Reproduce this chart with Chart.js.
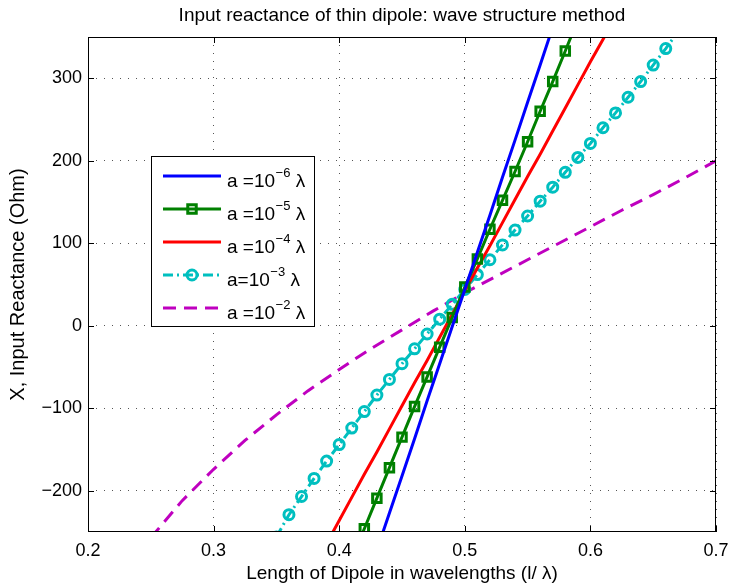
<!DOCTYPE html>
<html><head><meta charset="utf-8">
<script src="https://cdn.jsdelivr.net/npm/chart.js@4/dist/chart.umd.min.js"></script>
<style>html,body{margin:0;padding:0;background:#fff}</style>
</head><body>
<canvas id="c" width="731" height="587" style="display:block"></canvas>
<script>
// ---------- data ----------
const titleText = 'Input reactance of thin dipole: wave structure method';
const xAxisLabel = 'Length of Dipole in wavelengths (l/ \u03BB)';
const yAxisLabel = 'X, Input Reactance (Ohm)';
const xTicks = [0.2, 0.3, 0.4, 0.5, 0.6, 0.7];
const xTickLabels = ['0.2', '0.3', '0.4', '0.5', '0.6', '0.7'];
const yTicks = [-200, -100, 0, 100, 200, 300];
const yTickLabels = ['\u2212200', '\u2212100', '0', '100', '200', '300'];

const legendPrefix = ['a =10', 'a =10', 'a =10', 'a=10', 'a =10'];
const legendExp = ['\u22126', '\u22125', '\u22124', '\u22123', '\u22122'];
const legendSuffix = ' \u03BB';

// a = 1e-6 lambda
const x6 = [0.42,0.43,0.44,0.45,0.46,0.47,0.48,0.49,0.50,0.51,0.52,0.53,0.54,0.55,0.56,0.57,0.58];
const y6 = [-318,-272,-227,-182,-137,-91,-46,-1,44,89,134,180,225,271,316,362,408];
// a = 1e-5 lambda
const x5 = [0.41,0.42,0.43,0.44,0.45,0.46,0.47,0.48,0.49,0.50,0.51,0.52,0.53,0.54,0.55,0.56,0.57,0.58,0.59];
const y5 = [-283,-246,-209,-172,-135,-98,-62,-26,10,47,81,117,152,187,223,260,296,333,371];
// a = 1e-4 lambda
const x4 = [0.39,0.40,0.41,0.42,0.43,0.44,0.45,0.46,0.47,0.48,0.49,0.50,0.51,0.52,0.53,0.54,0.55,0.56,0.57,0.58,0.59,0.60,0.61,0.62];
const y4 = [-264,-236,-208,-180,-153,-125,-97,-69,-42,-14,14,42,70,97,125,153,181,208,236,264,292,320,347,375];
// a = 1e-3 lambda
const x3 = [0.35,0.36,0.37,0.38,0.39,0.40,0.41,0.42,0.43,0.44,0.45,0.46,0.47,0.48,0.49,0.50,0.51,0.52,0.53,0.54,0.55,0.56,0.57,0.58,0.59,0.60,0.61,0.62,0.63,0.64,0.65,0.66,0.67];
const y3 = [-256,-229,-207,-185,-164,-144,-124,-104,-84,-65,-46,-28,-10,8,26,44,62,80,98,116,133,151,168,186,204,221,240,258,277,296,316,336,357];
// a = 1e-2 lambda
const x2 = [0.25,0.275,0.30,0.325,0.35,0.375,0.40,0.425,0.45,0.475,0.50,0.525,0.55,0.575,0.60,0.625,0.65,0.675,0.70];
const y2 = [-257,-212,-174,-139,-108,-79,-53,-28,-5,18,40,60,80,100,120,140,159,179,200];

// ---------- helpers ----------
const FONT = "'Liberation Sans', Arial, Helvetica, sans-serif";
const pts = (xs, ys) => xs.map((x, i) => ({x: x, y: ys[i]}));
const C_BLUE = '#0000ff', C_GREEN = '#008000', C_RED = '#ff0000', C_CYAN = '#00bfbf', C_MAG = '#bf00bf';

const datasets = [
  {data: pts(x6, y6), borderColor: C_BLUE, borderWidth: 3, pointRadius: 0},
  {data: pts(x5, y5), borderColor: C_GREEN, borderWidth: 3, pointStyle: 'rect', pointRadius: 6,
   pointBorderWidth: 3, pointBorderColor: C_GREEN, pointBackgroundColor: 'rgba(255,255,255,0)'},
  {data: pts(x4, y4), borderColor: C_RED, borderWidth: 3, pointRadius: 0},
  {data: pts(x3, y3), borderColor: C_CYAN, borderWidth: 3, borderDash: [10, 4, 2, 4], pointStyle: 'circle', pointRadius: 5,
   pointBorderWidth: 3, pointBorderColor: C_CYAN, pointBackgroundColor: 'rgba(255,255,255,0)'},
  {data: pts(x2, y2), borderColor: C_MAG, borderWidth: 3, borderDash: [13, 8], pointRadius: 0}
];
datasets.forEach(d => { d.tension = 0; d.fill = false; });

// ---------- plugins ----------
const framePlugin = {
  id: 'frame',
  afterDatasetsDraw(chart) {
    const {ctx, chartArea: a, scales: {x, y}} = chart;
    ctx.save();
    ctx.strokeStyle = '#000'; ctx.lineWidth = 1; ctx.setLineDash([]);
    ctx.strokeRect(Math.round(a.left) + 0.5, Math.round(a.top) + 0.5, Math.round(a.right - a.left) - 1, Math.round(a.bottom - a.top) - 1);
    const L = 6;
    ctx.beginPath();
    xTicks.forEach(v => {
      const px = Math.round(x.getPixelForValue(v)) + 0.5;
      ctx.moveTo(px, a.bottom); ctx.lineTo(px, a.bottom - L);
      ctx.moveTo(px, a.top); ctx.lineTo(px, a.top + L);
    });
    yTicks.forEach(v => {
      const py = Math.round(y.getPixelForValue(v)) + 0.5;
      ctx.moveTo(a.left, py); ctx.lineTo(a.left + L, py);
      ctx.moveTo(a.right, py); ctx.lineTo(a.right - L, py);
    });
    ctx.stroke();
    // title
    ctx.fillStyle = '#000';
    ctx.font = '19px ' + FONT;
    ctx.textAlign = 'center'; ctx.textBaseline = 'middle';
    ctx.fillText(titleText, (a.left + a.right) / 2, 16);
    ctx.restore();
  },
  afterDraw(chart) {
    const ctx = chart.ctx;
    ctx.save();
    const bx = 151.5, by = 156.5, bw = 163, bh = 170;
    ctx.fillStyle = '#fff';
    ctx.fillRect(bx, by, bw, bh);
    ctx.strokeStyle = '#000'; ctx.lineWidth = 1; ctx.setLineDash([]);
    ctx.strokeRect(bx, by, bw, bh);
    datasets.forEach((d, i) => {
      const ry = 176 + i * 33;
      ctx.save();
      ctx.strokeStyle = d.borderColor; ctx.lineWidth = d.borderWidth;
      ctx.setLineDash(d.borderDash || []);
      ctx.beginPath(); ctx.moveTo(163, ry); ctx.lineTo(221, ry); ctx.stroke();
      ctx.setLineDash([]);
      if (d.pointRadius > 0) {
        ctx.lineWidth = d.pointBorderWidth;
        ctx.beginPath();
        if (d.pointStyle === 'rect') {
          const s = d.pointRadius * Math.SQRT1_2;
          ctx.rect(192 - s, ry - s, 2 * s, 2 * s);
        } else {
          ctx.arc(192, ry, d.pointRadius, 0, Math.PI * 2);
        }
        ctx.stroke();
      }
      ctx.restore();
      // text with superscript
      ctx.fillStyle = '#000';
      ctx.textAlign = 'left'; ctx.textBaseline = 'alphabetic';
      let tx = 227;
      ctx.font = '19px ' + FONT;
      ctx.fillText(legendPrefix[i], tx, ry + 11);
      tx += ctx.measureText(legendPrefix[i]).width + 0.5;
      ctx.font = '13px ' + FONT;
      ctx.fillText(legendExp[i], tx, ry + 1);
      tx += ctx.measureText(legendExp[i]).width;
      ctx.font = '19px ' + FONT;
      ctx.fillText(legendSuffix, tx, ry + 11);
    });
    ctx.restore();
  }
};

new Chart(document.getElementById('c'), {
  type: 'line',
  data: {datasets: datasets},
  options: {
    responsive: false, animation: false, devicePixelRatio: 1,
    layout: {padding: {top: 37, right: 15, left: 0, bottom: 0}},
    plugins: {legend: {display: false}, tooltip: {enabled: false}, title: {display: false}},
    scales: {
      x: {
        type: 'linear', min: 0.2, max: 0.7,
        afterBuildTicks: s => { s.ticks = xTicks.map(v => ({value: v})); },
        afterFit: s => { s.height = 55; s.paddingLeft = 0; s.paddingRight = 0; },
        grid: {color: '#555', lineWidth: 1, drawTicks: false},
        border: {display: false, dash: [1, 7]},
        ticks: {padding: 8, color: '#000', autoSkip: false, maxRotation: 0,
                font: {family: FONT, size: 18}, callback: (v, i) => xTickLabels[i]},
        title: {display: true, text: xAxisLabel, color: '#000', font: {family: FONT, size: 19},
                padding: {top: 0, bottom: 2}}
      },
      y: {
        type: 'linear', min: -250, max: 350,
        afterBuildTicks: s => { s.ticks = yTicks.map(v => ({value: v})); },
        afterFit: s => { s.width = 88; s.paddingTop = 0; s.paddingBottom = 0; },
        grid: {color: '#555', lineWidth: 1, drawTicks: false},
        border: {display: false, dash: [1, 7]},
        ticks: {padding: 6, color: '#000', autoSkip: false,
                font: {family: FONT, size: 18}, callback: (v, i) => yTickLabels[i]},
        title: {display: true, text: yAxisLabel, color: '#000', font: {family: FONT, size: 20},
                padding: {top: 6, bottom: 0}}
      }
    }
  },
  plugins: [framePlugin]
});
</script>
</body></html>
